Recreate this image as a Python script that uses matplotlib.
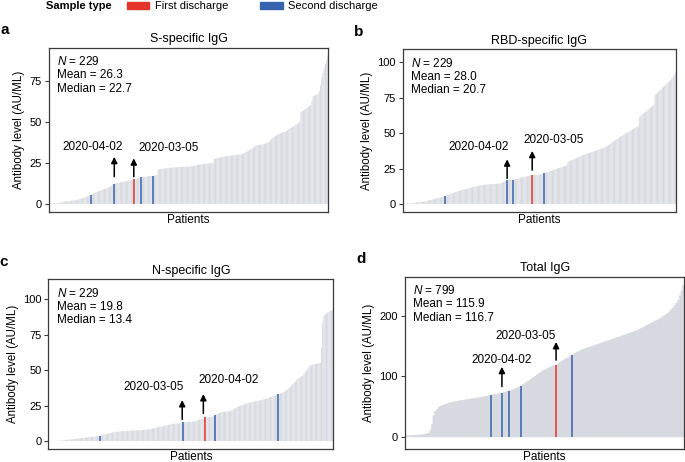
import matplotlib
matplotlib.use("Agg")
import matplotlib.pyplot as plt
from matplotlib.patches import Patch

plt.rcParams["font.family"] = ["Liberation Sans", "DejaVu Sans"]
plt.rcParams["mathtext.fontset"] = "custom"
plt.rcParams["mathtext.rm"] = "Liberation Sans"
plt.rcParams["mathtext.it"] = "Liberation Sans:italic"

# ---------------------------------------------------------
# Data (sorted antibody levels, AU/ML)
# ---------------------------------------------------------
s_igg = [
    0.2, 0.2, 0.3, 0.3, 0.3, 0.4, 0.4, 0.5, 0.5, 0.6,
    1.2, 1.3, 1.4, 1.5, 1.6, 1.7, 1.8, 1.9, 2.0, 2.1,
    2.2, 2.3, 2.4, 2.6, 2.8, 3.0, 3.2, 3.5, 3.8, 4.1,
    4.4, 4.7, 5.0, 5.2, 5.5, 5.9, 6.3, 6.7, 7.0, 7.3,
    7.6, 7.9, 8.2, 8.5, 8.8, 9.1, 9.4, 9.7, 10.0, 10.4,
    10.8, 11.2, 11.6, 12.0, 12.3, 12.5, 12.7, 12.9, 13.1, 13.3,
    13.5, 13.6, 13.7, 13.9, 14.1, 14.3, 14.5, 14.7, 14.8, 15.0,
    15.2, 15.4, 15.6, 15.8, 16.0, 16.3, 16.4, 16.5, 16.6, 16.7,
    16.8, 16.9, 17.0, 17.1, 17.1, 17.2, 17.3, 17.4, 17.5, 21.0,
    21.2, 21.3, 21.4, 21.5, 21.6, 21.7, 21.8, 21.9, 22.0, 22.0,
    22.1, 22.2, 22.3, 22.3, 22.4, 22.4, 22.5, 22.5, 22.6, 22.6,
    22.6, 22.7, 22.7, 22.7, 22.7, 22.8, 22.9, 23.0, 23.2, 23.4,
    23.6, 23.8, 23.9, 24.0, 24.1, 24.2, 24.3, 24.4, 24.5, 24.6,
    24.7, 24.8, 24.9, 25.0, 25.2, 27.6, 27.7, 27.8, 27.9, 28.0,
    28.2, 28.4, 28.6, 28.8, 29.0, 29.1, 29.2, 29.3, 29.4, 29.5,
    29.6, 29.7, 29.8, 29.9, 30.0, 30.1, 30.2, 30.4, 30.6, 30.8,
    31.2, 31.6, 32.0, 32.5, 33.0, 33.5, 33.8, 34.4, 35.0, 35.5,
    35.8, 35.9, 36.0, 36.1, 36.2, 36.4, 36.6, 36.9, 37.2, 37.6,
    38.0, 38.8, 39.6, 40.2, 40.8, 41.4, 41.9, 42.3, 42.7, 43.1,
    43.4, 43.7, 43.9, 44.1, 44.5, 45.0, 45.5, 46.0, 46.4, 46.8,
    47.3, 47.8, 48.2, 48.7, 49.3, 50.0, 56.0, 56.5, 57.0, 57.5,
    58.0, 58.6, 59.2, 59.8, 60.3, 62.5, 65.5, 66.0, 66.3, 66.6,
    67.0, 68.5, 72.0, 77.0, 80.0, 83.0, 85.5, 88.0, 90.5,
]

rbd_igg = [
    0.2, 0.2, 0.2, 0.3, 0.3, 0.3, 0.4, 0.4, 0.5, 0.5,
    1.0, 1.1, 1.2, 1.3, 1.4, 1.5, 1.6, 1.7, 1.8, 2.0,
    2.3, 2.5, 2.7, 2.9, 3.1, 3.3, 3.5, 3.7, 4.0, 4.2,
    4.4, 4.6, 4.8, 5.0, 5.3, 5.7, 6.0, 6.3, 6.6, 6.9,
    7.2, 7.5, 7.8, 8.1, 8.4, 8.7, 9.0, 9.3, 9.6, 9.9,
    10.1, 10.3, 10.5, 10.7, 10.9, 11.1, 11.4, 11.7, 11.9, 12.1,
    12.3, 12.5, 12.7, 12.9, 13.1, 13.3, 13.4, 13.5, 13.6, 13.7,
    13.8, 13.8, 13.9, 13.9, 14.0, 14.0, 14.1, 14.1, 14.2, 14.3,
    14.4, 14.5, 14.8, 15.2, 15.6, 16.0, 16.4, 16.8, 16.9, 17.0,
    17.0, 17.1, 17.2, 17.4, 17.6, 17.8, 18.0, 18.2, 18.4, 18.6,
    18.8, 19.0, 19.2, 19.4, 19.6, 19.8, 20.0, 20.2, 20.5, 20.5,
    20.6, 20.6, 20.7, 20.7, 20.7, 20.9, 21.1, 21.4, 21.7, 22.0,
    22.3, 22.6, 22.9, 23.2, 23.5, 23.8, 24.1, 24.4, 24.7, 25.0,
    25.3, 25.6, 25.9, 26.2, 26.5, 26.8, 27.1, 27.4, 29.5, 30.0,
    30.4, 30.8, 31.2, 31.6, 32.0, 32.4, 32.8, 33.2, 33.6, 34.0,
    34.3, 34.6, 34.9, 35.2, 35.5, 35.8, 36.1, 36.4, 36.7, 37.0,
    37.3, 37.6, 37.9, 38.2, 38.5, 38.8, 39.1, 39.4, 39.7, 40.0,
    40.5, 41.0, 41.6, 42.2, 42.8, 43.4, 44.0, 44.6, 45.2, 45.8,
    46.4, 47.0, 47.5, 48.0, 48.5, 49.0, 49.5, 50.0, 50.5, 51.0,
    51.5, 52.0, 52.5, 53.0, 53.5, 54.0, 54.5, 55.0, 61.5, 62.3,
    63.0, 63.7, 64.4, 65.1, 65.8, 66.5, 67.2, 67.9, 68.6, 69.3,
    70.0, 77.0, 77.8, 78.6, 79.4, 80.2, 81.0, 81.8, 82.6, 83.4,
    84.2, 85.0, 85.8, 86.6, 87.4, 88.5, 90.0, 91.5, 93.0,
]

n_igg = [
    0.1, 0.1, 0.1, 0.1, 0.2, 0.2, 0.2, 0.2, 0.3, 0.3,
    0.4, 0.5, 0.6, 0.7, 0.8, 0.9, 1.0, 1.1, 1.2, 1.3,
    1.4, 1.5, 1.6, 1.8, 1.9, 2.0, 2.1, 2.2, 2.3, 2.4,
    2.5, 2.6, 2.7, 2.8, 2.9, 3.0, 3.1, 3.2, 3.4, 3.6,
    3.7, 3.8, 4.2, 4.4, 4.6, 4.8, 5.0, 5.2, 5.4, 5.6,
    5.8, 6.0, 6.2, 6.4, 6.5, 6.6, 6.7, 6.8, 6.9, 7.0,
    7.0, 7.1, 7.1, 7.2, 7.2, 7.3, 7.3, 7.4, 7.4, 7.5,
    7.5, 7.6, 7.6, 7.7, 7.7, 7.8, 7.9, 8.0, 8.1, 8.2,
    8.3, 8.4, 8.6, 8.8, 9.0, 9.2, 9.4, 9.6, 9.8, 10.0,
    10.2, 10.4, 10.6, 10.8, 11.0, 11.2, 11.4, 11.6, 11.8, 12.0,
    12.1, 12.2, 12.3, 12.4, 12.5, 12.6, 12.8, 13.0, 13.1, 13.2,
    13.3, 13.3, 13.4, 13.4, 13.4, 13.6, 13.8, 14.0, 14.3, 14.6,
    14.9, 15.2, 15.5, 15.8, 16.1, 16.7, 16.8, 16.9, 17.0, 17.1,
    17.2, 17.3, 17.6, 18.3, 18.6, 19.0, 19.4, 19.8, 20.2, 20.4,
    20.5, 20.6, 20.7, 20.8, 20.9, 21.0, 21.2, 21.6, 22.2, 22.8,
    23.3, 23.8, 24.2, 24.6, 25.0, 25.3, 25.6, 25.9, 26.2, 26.5,
    26.8, 27.0, 27.2, 27.4, 27.6, 27.8, 28.0, 28.2, 28.4, 28.6,
    28.8, 29.0, 29.2, 29.5, 29.8, 30.1, 30.4, 30.7, 31.0, 31.3,
    31.6, 31.9, 32.2, 32.5, 33.1, 33.3, 33.5, 33.8, 34.2, 34.6,
    35.2, 35.9, 36.6, 37.4, 38.3, 39.4, 40.3, 41.2, 42.1, 43.0,
    43.8, 44.5, 45.1, 45.6, 46.2, 47.3, 48.5, 49.8, 51.0, 52.3,
    53.2, 53.6, 53.9, 54.1, 54.3, 54.5, 54.7, 54.8, 55.0, 66.0,
    84.0, 88.5, 89.5, 90.0, 90.5, 91.0, 91.5, 92.0, 92.5,
]

# total IgG: 799 patients, read at 160 evenly spaced positions
total_igg = [
    2.0, 2.0, 2.0, 2.0, 2.5, 2.5, 3.0, 3.0, 3.0, 3.5,
    4.0, 4.5, 5.0, 6.0, 10.0, 20.0, 35.0, 42.0, 46.0, 49.0,
    51.0, 52.0, 53.0, 54.0, 55.0, 56.0, 57.0, 57.5, 58.0, 58.5,
    59.0, 59.5, 60.0, 60.5, 61.0, 61.5, 62.0, 62.5, 63.0, 63.5,
    64.0, 64.5, 65.0, 65.5, 66.0, 66.5, 67.0, 67.5, 68.0, 69.0,
    69.5, 70.0, 70.5, 71.0, 71.5, 72.0, 73.0, 74.0, 75.0, 75.8,
    76.5, 77.5, 78.5, 79.5, 81.0, 82.5, 84.0, 86.0, 88.0, 90.0,
    92.0, 94.0, 96.0, 98.0, 100.0, 102.0, 104.0, 106.0, 108.0, 110.0,
    111.0, 112.5, 114.0, 115.5, 116.5, 117.5, 118.3, 120.0, 122.0, 124.0,
    126.0, 128.0, 129.5, 131.0, 133.0, 134.7, 136.0, 138.0, 140.0, 141.5,
    143.0, 144.0, 145.0, 146.0, 147.0, 148.0, 149.0, 150.0, 151.0, 152.0,
    153.0, 154.0, 155.0, 156.0, 157.0, 158.0, 159.0, 160.0, 161.0, 162.0,
    163.0, 164.0, 165.0, 166.0, 167.0, 168.0, 169.0, 170.0, 171.0, 172.0,
    173.0, 174.0, 175.0, 176.5, 178.0, 179.5, 181.0, 182.5, 184.0, 185.5,
    187.0, 188.5, 190.0, 191.5, 193.0, 194.5, 196.0, 198.0, 200.0, 202.0,
    204.0, 207.0, 210.0, 213.0, 217.0, 221.0, 226.0, 233.0, 241.0, 250.0,
]

# positions (in each list) of the discharge samples
s_first, s_second = [69], [34, 53, 75, 85]
rbd_first, rbd_second = [108], [35, 87, 92, 118]
n_first, n_second = [125], [41, 108, 133, 184]
total_first, total_second = [86], [49, 55, 59, 66, 95]

stats_s = ["229", "26.3", "22.7"]
stats_rbd = ["229", "28.0", "20.7"]
stats_n = ["229", "19.8", "13.4"]
stats_total = ["799", "115.9", "116.7"]

GRAY = "#d7d9e0"
RED = "#e5352b"
BLUE = "#3762ad"
SPINE = "#3a3a3a"

fig = plt.figure(figsize=(6.85, 4.62), dpi=100)


def draw_panel(rect, letter, title, values, first, second, stats, ylim, yticks,
               arrows, labels, bar_w=0.85, solid=False):
    ax = fig.add_axes(rect)
    x = list(range(len(values)))
    if solid:
        # dense panel: bars touch, drawn with a thin matching edge (no seams)
        ax.bar(x, values, width=1.0, color=GRAY, edgecolor=GRAY,
               linewidth=0.4, zorder=1, snap=False)
    else:
        ax.bar(x, values, width=bar_w, color=GRAY, linewidth=0, zorder=1,
               snap=False)
    for idx_list, col in ((second, BLUE), (first, RED)):
        ax.vlines(idx_list, 0, [values[i] for i in idx_list], colors=col,
                  linewidth=1.1, zorder=2)

    ax.set_xlim(-0.5, len(values) - 0.5)
    ax.set_ylim(*ylim)
    ax.set_yticks(yticks)
    ax.set_xticks([])
    ax.tick_params(axis="y", length=3, width=0.8, color=SPINE, labelsize=8,
                   pad=2, labelcolor="black")
    for sp in ax.spines.values():
        sp.set_color(SPINE)
        sp.set_linewidth(0.9)
        sp.set_zorder(3)

    ax.set_title(title, fontsize=9, pad=4)
    ax.set_xlabel("Patients", fontsize=8.5, labelpad=1.5)
    ax.set_ylabel("Antibody level (AU/ML)", fontsize=8.3, labelpad=3)

    lines = [f"$N$ = {stats[0]}", f"Mean = {stats[1]}", f"Median = {stats[2]}"]
    for k, line in enumerate(lines):
        ax.annotate(line, xy=(0, 1), xycoords="axes fraction",
                    xytext=(6, -10 - 9.6 * k), textcoords="offset points",
                    fontsize=8.5, va="center", ha="left")

    for xa, y0, y1 in arrows:
        ax.annotate("", xy=(xa, y1), xytext=(xa, y0),
                    arrowprops=dict(arrowstyle="-|>", color="black", lw=1.1,
                                    mutation_scale=9, shrinkA=0, shrinkB=0))
    for txt, xt, yt in labels:
        ax.text(xt, yt, txt, fontsize=8.5, ha="center", va="center")

    fig.text(rect[0] - 0.071, rect[1] + rect[3] + 0.038, letter,
             fontsize=11, fontweight="bold", ha="left", va="center")
    return ax


draw_panel([0.0715, 0.5418, 0.408, 0.3543], "a", "S-specific IgG",
           s_igg, s_first, s_second, stats_s, (-4.7, 95), [0, 25, 50, 75],
           arrows=[(53, 16.6, 28.7), (69, 16.6, 27.8)],
           labels=[("2020-04-02", 35, 34.8), ("2020-03-05", 97.4, 33.8)])

draw_panel([0.5879, 0.5418, 0.399, 0.3511], "b", "RBD-specific IgG",
           rbd_igg, rbd_first, rbd_second, stats_rbd, (-5.4, 109),
           [0, 25, 50, 75, 100],
           arrows=[(87, 18.1, 31.5), (108, 23.9, 37.5)],
           labels=[("2020-04-02", 63, 40.3), ("2020-03-05", 125.6, 45)])

draw_panel([0.0708, 0.0275, 0.4158, 0.368], "c", "N-specific IgG",
           n_igg, n_first, n_second, stats_n, (-5.8, 114),
           [0, 25, 50, 75, 100],
           arrows=[(107, 15.3, 28.9), (124, 19.5, 33.1)],
           labels=[("2020-03-05", 84, 37.8), ("2020-04-02", 144.5, 43)])

draw_panel([0.5912, 0.0281, 0.408, 0.3723], "d", "Total IgG",
           total_igg, total_first, total_second, stats_total, (-20, 264),
           [0, 100, 200],
           arrows=[(55, 83.3, 115.7), (86, 126.7, 156.7)],
           labels=[("2020-04-02", 55, 127.8), ("2020-03-05", 68.8, 166.7)],
           solid=True)

# legend on top
fig.text(46 / 685, 1 - 6 / 462, "Sample type", fontsize=8, fontweight="bold",
         ha="left", va="center")
handles = [Patch(color=RED), Patch(color=BLUE)]
fig.legend(handles, ["First discharge", "Second discharge"], ncol=2,
           loc="center left", bbox_to_anchor=(127 / 685, 1 - 6 / 462),
           frameon=False, fontsize=8, handlelength=2.0, handleheight=0.6,
           handletextpad=0.5, columnspacing=2.9, borderpad=0, borderaxespad=0)

fig.savefig("out.png", dpi=100)
